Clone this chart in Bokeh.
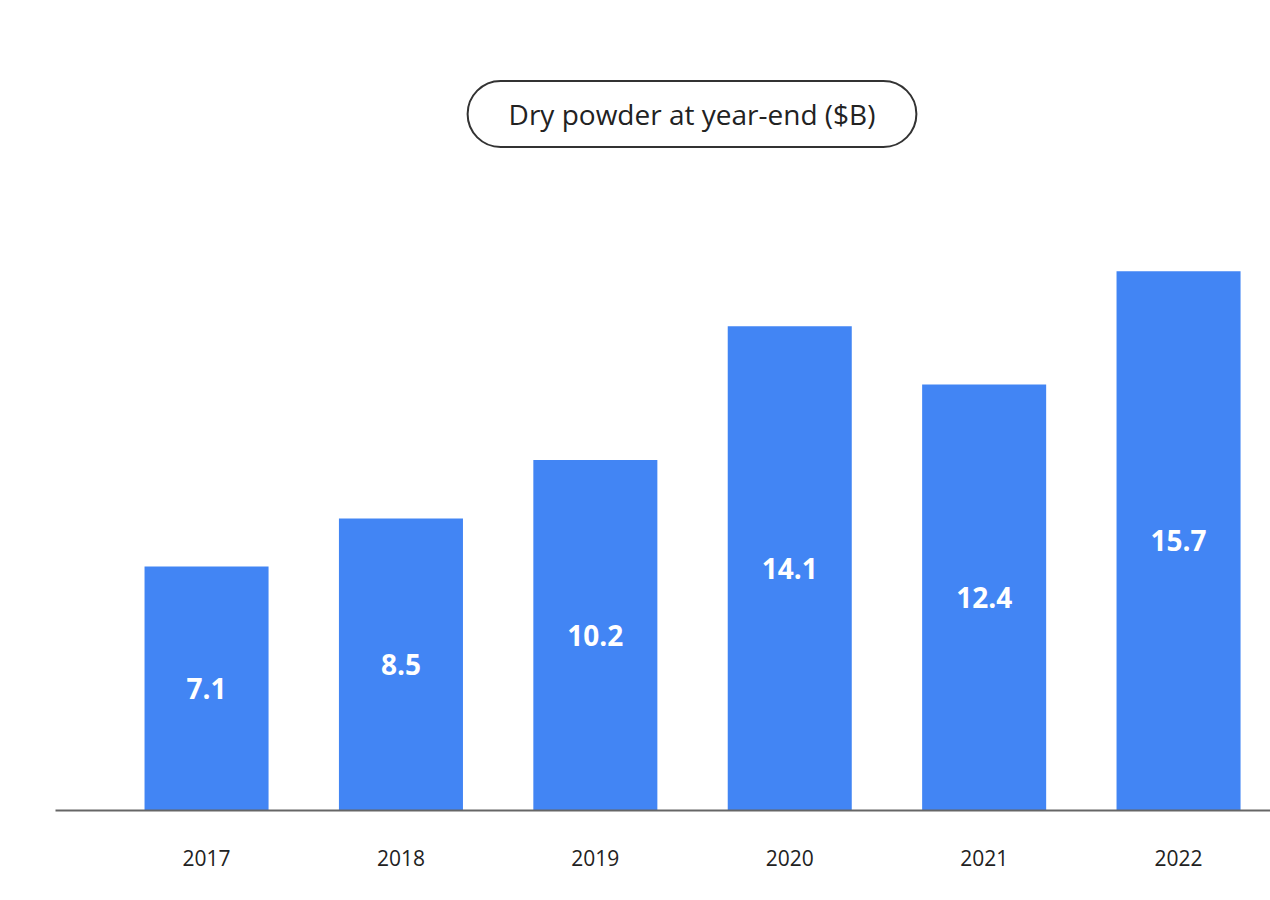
from bokeh.plotting import figure
from bokeh.models import Range1d, Label, ColumnDataSource, FixedTicker
from bokeh.core.properties import value
from bokeh.embed import file_html
from bokeh.resources import INLINE

years = ["2017", "2018", "2019", "2020", "2021", "2022"]
dry_powder = [7.1, 8.5, 10.2, 14.1, 12.4, 15.7]
labels = [f"{v:.1f}" for v in dry_powder]
title_text = "Dry powder at year-end ($B)"

BLUE = "#4285F4"
FONT = "Open Sans"

idx = list(range(len(years)))
src = ColumnDataSource(dict(
    x=idx, top=dry_powder, mid=[v / 2 for v in dry_powder], lab=labels,
))

p = figure(
    width=1270, height=890,
    x_range=Range1d(-0.777, 5.473),
    y_range=Range1d(0, 23.58),
    output_backend="svg", toolbar_location=None,
    y_axis_location=None,
    min_border_left=55, min_border_right=0, min_border_top=0, min_border_bottom=80,
)
p.outline_line_color = None
p.xgrid.visible = False
p.ygrid.visible = False
p.background_fill_color = "white"
p.border_fill_color = "white"

p.vbar(x="x", top="top", bottom=0, width=0.638, source=src,
       fill_color=BLUE, line_color=None)

p.text(x="x", y="mid", text="lab", source=src,
       text_color="white", text_font=value(FONT), text_font_style="bold",
       text_font_size="28px", text_align="center", text_baseline="middle")

ax = p.xaxis[0]
ax.ticker = FixedTicker(ticks=idx)
ax.major_label_overrides = {i: y for i, y in zip(idx, years)}
ax.axis_line_color = "#666666"
ax.axis_line_width = 2
ax.major_tick_line_color = None
ax.minor_tick_line_color = None
ax.major_tick_out = 0
ax.major_tick_in = 0
ax.major_label_standoff = 39
ax.major_label_text_font = FONT
ax.major_label_text_font_size = "21px"
ax.major_label_text_color = "#222222"

title = Label(
    x=636.5, y=696.5, x_units="screen", y_units="screen",
    text=title_text, text_font=FONT, text_font_size="28px", text_color="#222222",
    text_align="center", text_baseline="middle",
    border_line_color="#333333", border_line_width=2,
    background_fill_color="white",
    padding=dict(left=41, right=41, top=14, bottom=14),
    border_radius=34,
)
p.add_layout(title)

open("out.html", "w").write(file_html(p, INLINE))
